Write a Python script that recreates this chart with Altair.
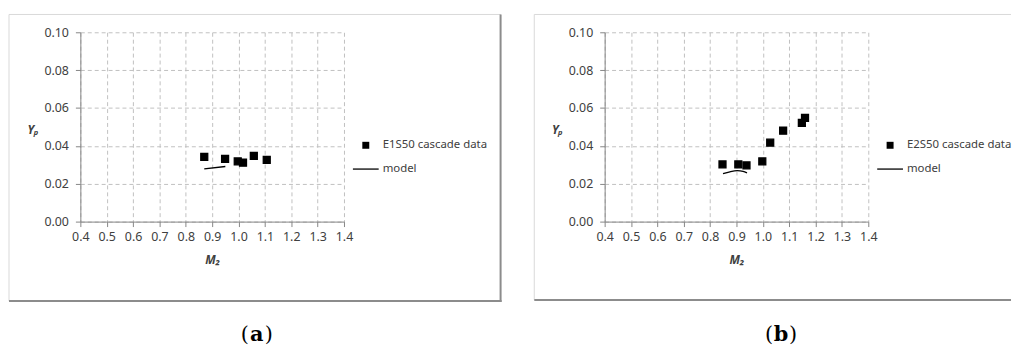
import altair as alt
import pandas as pd

# ---- data ----
a_m2 = [0.870, 0.949, 0.997, 1.017, 1.058, 1.107]
a_yp = [0.0342, 0.0331, 0.0318, 0.0311, 0.0347, 0.0326]
a_model_m2 = [0.870, 0.950]
a_model_yp = [0.0279, 0.0291]

b_m2 = [0.847, 0.907, 0.938, 0.998, 1.028, 1.077, 1.148, 1.160]
b_yp = [0.0302, 0.0302, 0.0297, 0.0318, 0.0417, 0.0480, 0.0522, 0.0548]
b_model_m2 = [0.849, 0.875, 0.903, 0.925, 0.940]
b_model_yp = [0.0253, 0.0263, 0.0269, 0.0265, 0.0257]

x_ticks = [0.4, 0.5, 0.6, 0.7, 0.8, 0.9, 1.0, 1.1, 1.2, 1.3, 1.4]
y_ticks = [0.00, 0.02, 0.04, 0.06, 0.08, 0.10]

W, H = 266, 191
TXT = "#404040"
FONT = "Noto Sans"
SQUARE = "M-0.27,-0.27H0.27V0.27H-0.27Z"


def panel(m2, yp, mm2, myp, label, tag, right_closed):
    pts = pd.DataFrame({"M2": m2, "Yp": yp, "series": label})
    mdl = pd.DataFrame({"M2": mm2, "Yp": myp})
    one = pd.DataFrame({"k": [0]})

    xs = alt.Scale(domain=[0.4, 1.4], nice=False, zero=False)
    ys = alt.Scale(domain=[0, 0.10], nice=False)
    xax = alt.Axis(values=x_ticks, tickCount=50, labelOverlap=False, labelFlush=False,
                   format=".1f", title="M₂", titleX=133, titleY=38,
                   titleBaseline="middle", titleAlign="center")
    yax = alt.Axis(values=y_ticks, tickCount=50, labelOverlap=False, labelFlush=False,
                   format=".2f", title="Yₚ", titleAngle=0, titleX=-48,
                   titleY=98, titleAlign="center", titleBaseline="middle")

    shape = alt.Shape(
        "series:N",
        scale=alt.Scale(domain=[label, "model"], range=[SQUARE, "stroke"]),
        legend=alt.Legend(title=None, orient="none", legendX=274, legendY=100,
                          symbolSize=676, symbolFillColor="black", symbolStrokeColor="black",
                          symbolStrokeWidth=1.3, symbolOpacity=1, labelOffset=3,
                          labelFont=FONT, labelFontSize=11.5, labelColor=TXT, rowPadding=3),
    )

    points = alt.Chart(pts).mark_point(filled=True, color="black", fill="black", stroke="black",
                                       strokeWidth=1.3, size=676, opacity=1).encode(
        x=alt.X("M2:Q", scale=xs, axis=xax),
        y=alt.Y("Yp:Q", scale=ys, axis=yax),
        shape=shape,
    )
    line = alt.Chart(mdl).mark_line(color="black", strokeWidth=1.3, interpolate="monotone").encode(
        x=alt.X("M2:Q", scale=xs, axis=xax),
        y=alt.Y("Yp:Q", scale=ys, axis=yax),
    )
    # legend symbol for the model line
    leg_line = alt.Chart(one).mark_rule(color="black", strokeWidth=1.3).encode(
        x=alt.value(275), x2=alt.value(301), y=alt.value(138))

    layers = [line, points, leg_line]
    if right_closed:
        border = alt.Chart(one).mark_rect(fill=None, stroke="#d9d9d9", strokeWidth=1).encode(
            x=alt.value(-72), x2=alt.value(424), y=alt.value(-18), y2=alt.value(271))
        sh_r = alt.Chart(one).mark_rule(color="#8c8c8c", strokeWidth=2).encode(
            x=alt.value(424), y=alt.value(-18), y2=alt.value(272))
        sh_b = alt.Chart(one).mark_rule(color="#8c8c8c", strokeWidth=2).encode(
            x=alt.value(-72), x2=alt.value(425), y=alt.value(271))
        layers = [border, sh_r, sh_b] + layers
    else:
        top = alt.Chart(one).mark_rule(color="#d9d9d9", strokeWidth=1).encode(
            x=alt.value(-71), x2=alt.value(410), y=alt.value(-18))
        left = alt.Chart(one).mark_rule(color="#d9d9d9", strokeWidth=1).encode(
            x=alt.value(-71), y=alt.value(-18), y2=alt.value(270))
        bot = alt.Chart(one).mark_rule(color="#8c8c8c", strokeWidth=2).encode(
            x=alt.value(-71), x2=alt.value(410), y=alt.value(270))
        layers = [top, left, bot] + layers

    def t(s, x, align, weight):
        return alt.Chart(one).mark_text(font="DejaVu Serif", fontSize=21, fontWeight=weight,
                                        color="black", align=align, baseline="alphabetic").encode(
            x=alt.value(x), y=alt.value(311), text=alt.value(s))
    layers += [t("(", 170, "right", "normal"), t(tag, 178, "center", "bold"),
               t(")", 186, "left", "normal")]

    return alt.layer(*layers).properties(width=W, height=H)


pa = panel(a_m2, a_yp, a_model_m2, a_model_yp, "E1S50 cascade data", "a", True)
pb = panel(b_m2, b_yp, b_model_m2, b_model_yp, "E2S50 cascade data", "b", False)

chart = alt.hconcat(pa, pb, spacing=263, bounds="flush").resolve_scale(
    shape="independent").resolve_legend(shape="independent").properties(
    padding={"left": 0, "top": 4, "right": 0, "bottom": 0}
).configure_view(stroke=None).configure_axis(
    domainColor="#868686", tickColor="#868686", tickSize=5, domainWidth=1,
    gridColor="#c0c0c0", gridDash=[4, 3], gridWidth=1,
    labelFont=FONT, labelFontSize=12.5, labelColor=TXT, labelPadding=4,
    titleFont=FONT, titleFontSize=12, titleFontWeight="bold", titleFontStyle="italic",
    titleColor=TXT,
).configure_axisY(labelPadding=7)

chart.save("out.html", embed_options={"renderer": "svg", "actions": False})
